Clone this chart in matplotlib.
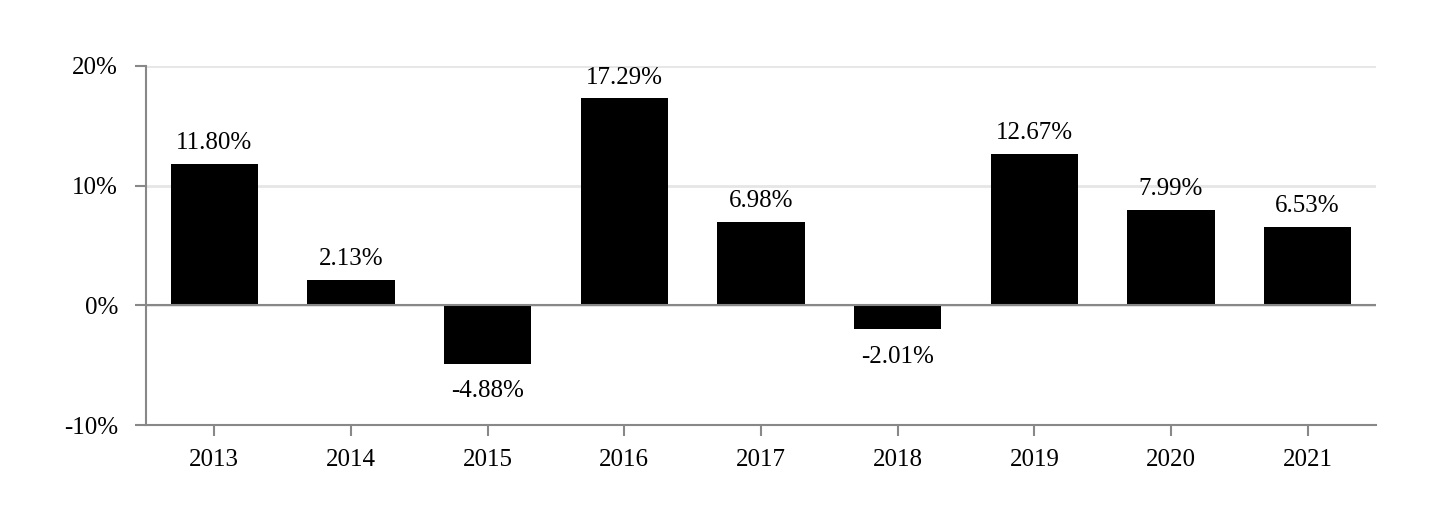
import numpy as np
import matplotlib
matplotlib.use("Agg")
import matplotlib.pyplot as plt

years = ['2013', '2014', '2015', '2016', '2017', '2018', '2019', '2020', '2021']
returns = [11.80, 2.13, -4.88, 17.29, 6.98, -2.01, 12.67, 7.99, 6.53]

plt.rcParams['font.family'] = ['Liberation Serif', 'DejaVu Serif']

fig = plt.figure(figsize=(14.4, 5.32), dpi=100)
ax = fig.add_axes([146/1440, 1 - 425/532, 1230/1440, (425 - 66)/532])

x = np.arange(len(years))
ax.bar(x, returns, width=0.64, color='black', zorder=3)

for xi, v in zip(x, returns):
    if v >= 0:
        ax.annotate(f"{v:.2f}%", (xi, v), xytext=(0, 7), textcoords='offset points',
                    ha='center', va='bottom', fontsize=18)
    else:
        ax.annotate(f"{v:.2f}%", (xi, v), xytext=(0, -12), textcoords='offset points',
                    ha='center', va='top', fontsize=18)

ax.set_xlim(-0.5, len(years) - 0.5)
ax.set_ylim(-10, 20)
ax.set_yticks([-10, 0, 10, 20])
ax.set_yticklabels(['-10%', '0%', '10%', '20%'])
ax.set_xticks(x)
ax.set_xticklabels(years)

ax.grid(axis='y', color='#e6e6e6', linewidth=2, zorder=0)
ax.axhline(0, color='#888888', linewidth=1.5, zorder=4)

for s in ['top', 'right']:
    ax.spines[s].set_visible(False)
for s in ['left', 'bottom']:
    ax.spines[s].set_color('#888888')
    ax.spines[s].set_linewidth(1.5)

ax.tick_params(axis='both', colors='#888888', length=8, width=1.5, labelsize=18,
               labelcolor='black')
ax.tick_params(axis='y', pad=12)
ax.tick_params(axis='x', pad=9)

fig.savefig('out.png', dpi=100)
